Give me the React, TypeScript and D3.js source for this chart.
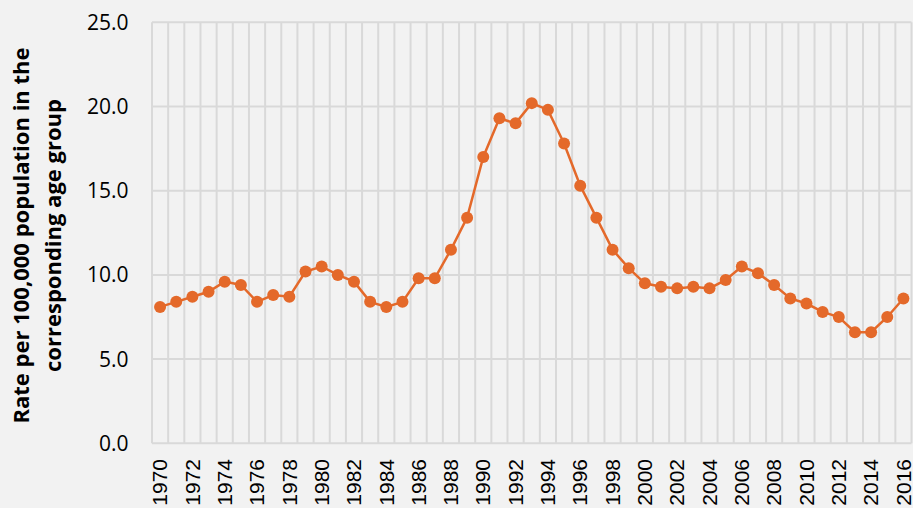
import React from "react";
import * as d3 from "d3";

const years: number[] = d3.range(1970, 2017);
const rates: number[] = [
  8.1, 8.4, 8.7, 9.0, 9.6, 9.4, 8.4, 8.8, 8.7, 10.2,
  10.5, 10.0, 9.6, 8.4, 8.1, 8.4, 9.8, 9.8, 11.5, 13.4,
  17.0, 19.3, 19.0, 20.2, 19.8, 17.8, 15.3, 13.4, 11.5, 10.4,
  9.5, 9.3, 9.2, 9.3, 9.2, 9.7, 10.5, 10.1, 9.4, 8.6,
  8.3, 7.8, 7.5, 6.6, 6.6, 7.5, 8.6,
];
const yTicks: number[] = [0, 5, 10, 15, 20, 25];
const yTitleLines: string[] = ["Rate per 100,000 population in the", "corresponding age group"];

const W = 913;
const H = 508;
const plotLeft = 152;
const plotRight = 911.5;
const plotTop = 22.3;
const plotBottom = 443.3;
const orange = "#e4692a";
const grid = "#d9d9d9";

export default function App() {
  const x = d3.scaleBand<number>().domain(years).range([plotLeft, plotRight]).padding(0);
  const y = d3.scaleLinear().domain([0, 25]).range([plotBottom, plotTop]);
  const cx = (yr: number) => (x(yr) as number) + x.bandwidth() / 2;
  const line = d3
    .line<number>()
    .x((_, i) => cx(years[i]))
    .y((d) => y(d));

  const boundaries = years.map((yr) => x(yr) as number).concat([plotRight]);

  return (
    <svg
      width={W}
      height={H}
      style={{ position: "absolute", left: 0, top: 0, background: "#f2f2f2" }}
    >
      <rect x={0} y={0} width={W} height={H} fill="#f2f2f2" />
      {boundaries.map((bx, i) => (
        <line key={"v" + i} x1={bx} x2={bx} y1={plotTop} y2={plotBottom} stroke={grid} strokeWidth={2} />
      ))}
      {yTicks.map((t) => (
        <line key={"h" + t} x1={plotLeft} x2={plotRight} y1={y(t)} y2={y(t)} stroke={grid} strokeWidth={2} />
      ))}
      {yTicks.map((t) => (
        <text
          key={"yt" + t}
          x={128.5}
          y={y(t)}
          dy="0.36em"
          textAnchor="end"
          fontFamily="'Open Sans', sans-serif"
          fontSize={21}
          fill="#000"
        >
          {t.toFixed(1)}
        </text>
      ))}
      {years
        .filter((yr) => (yr - 1970) % 2 === 0)
        .map((yr) => (
          <text
            key={"xt" + yr}
            transform={`translate(${cx(yr) + 7.2},${459}) rotate(-90)`}
            textAnchor="end"
            fontFamily="'Liberation Sans', Arial, sans-serif"
            fontSize={21}
            fill="#000"
          >
            {yr}
          </text>
        ))}
      {yTitleLines.map((l, i) => (
        <text
          key={"tt" + i}
          transform={`translate(${28.5 + i * 32},${235.5}) rotate(-90)`}
          textAnchor="middle"
          fontFamily="'Open Sans', sans-serif"
          fontWeight="bold"
          fontSize={22}
          fill="#000"
        >
          {l}
        </text>
      ))}
      <path d={line(rates) || ""} fill="none" stroke={orange} strokeWidth={2.5} />
      {rates.map((v, i) => (
        <circle key={"c" + i} cx={cx(years[i])} cy={y(v)} r={6} fill={orange} />
      ))}
    </svg>
  );
}
